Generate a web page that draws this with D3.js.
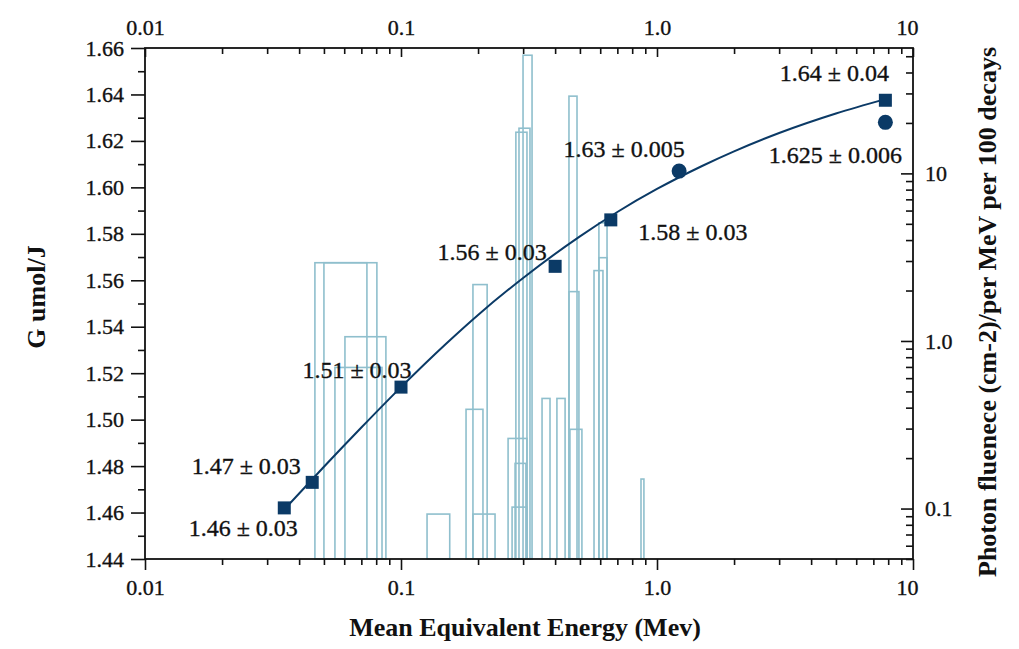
<!DOCTYPE html>
<html>
<head>
<meta charset="utf-8">
<script src="https://cdn.jsdelivr.net/npm/d3@7"></script>
<style>
  html, body { margin: 0; padding: 0; background: #ffffff; }
  svg { display: block; }
  text { font-family: "Liberation Serif", "DejaVu Serif", serif; fill: #111; }
  .reg { stroke: #111; stroke-width: 0.35px; }
</style>
</head>
<body>
<svg id="chart" width="1019" height="649"></svg>
<script>
// ---------------- data ----------------
// measured G values (squares)
const squareEnergy = [0.035, 0.045, 0.1, 0.40, 0.66, 7.8];
const squareG      = [1.462, 1.473, 1.514, 1.566, 1.586, 1.6375];
const squareLabels = ["1.46 ± 0.03", "1.47 ± 0.03", "1.51 ± 0.03", "1.56 ± 0.03", "1.58 ± 0.03", "1.64 ± 0.04"];
// reference G values (circles)
const circleEnergy = [1.22, 7.8];
const circleG      = [1.607, 1.628];
const circleLabels = ["1.63 ± 0.005", "1.625 ± 0.006"];
// fitted curve
const fitEnergy = [0.035, 0.05, 0.07, 0.1, 0.15, 0.2, 0.3, 0.5, 0.7, 1.0, 1.5, 2, 3, 5, 7.8];
const fitG      = [1.4613, 1.4797, 1.4966, 1.5140, 1.5327, 1.5451, 1.5610, 1.5789, 1.5894, 1.5993, 1.6092, 1.6155, 1.6234, 1.6318, 1.6380];
// photon fluence spectrum (outlined bins)
const binLow  = [0.0461, 0.0500, 0.0604, 0.0552, 0.1264, 0.191, 0.1795, 0.191, 0.2997, 0.281, 0.289, 0.262, 0.279, 0.2716, 0.3556, 0.4065, 0.453, 0.453, 0.457, 0.5675, 0.593, 0.593, 0.866];
const binHigh = [0.0736, 0.0805, 0.0873, 0.0843, 0.155, 0.217, 0.209, 0.233, 0.325, 0.3105, 0.319, 0.3105, 0.3076, 0.3105, 0.382, 0.4375, 0.487, 0.4955, 0.509, 0.615, 0.638, 0.638, 0.889];
const binFluence = [2.93, 2.93, 1.06, 0.695, 0.0927, 2.17, 0.391, 0.0927, 50.7, 17.6, 18.6, 0.262, 0.186, 0.102, 0.454, 0.454, 28.9, 1.97, 0.297, 2.63, 5.07, 3.14, 0.150];
// axis ticks
const xTickValues = [0.01, 0.1, 1, 10];
const xTickLabels = ["0.01", "0.1", "1.0", "10"];
const yTickValues = [1.44, 1.46, 1.48, 1.50, 1.52, 1.54, 1.56, 1.58, 1.60, 1.62, 1.64, 1.66];
const y2TickValues = [0.1, 1, 10];
const y2TickLabels = ["0.1", "1.0", "10"];

// ---------------- layout ----------------
const L = 145, R = 913, T = 48, B = 559;
const lineColor = "#0b3a66";
const barColor = "#8fbfcd";

const svg = d3.select("#chart");
const x = d3.scaleLog().domain([0.01, 10]).range([L, R]);
const y = d3.scaleLinear().domain([1.44, 1.66]).range([B, T]);
const y2 = d3.scaleLog().domain([0.05, 56]).range([B, T]);

// minor tick helpers
function logMinors(lo, hi) {
  const out = [];
  for (let e = Math.floor(Math.log10(lo)) ; e <= Math.ceil(Math.log10(hi)); e++) {
    for (let m = 2; m <= 9; m++) {
      const v = m * Math.pow(10, e);
      if (v >= lo * 0.9999 && v <= hi * 1.0001) out.push(v);
    }
  }
  return out;
}
const xMinor = logMinors(0.01, 10);
const y2Minor = logMinors(0.05, 56);
const yMinor = d3.range(1.45, 1.66, 0.02);

// ---------------- histogram ----------------
const bins = binLow.map((lo, i) => ({lo, hi: binHigh[i], v: binFluence[i]}));
svg.append("g").selectAll("rect").data(bins).join("rect")
  .attr("x", d => x(d.lo))
  .attr("y", d => y2(d.v))
  .attr("width", d => x(d.hi) - x(d.lo))
  .attr("height", d => B - y2(d.v))
  .attr("fill", "none")
  .attr("stroke", barColor)
  .attr("stroke-width", 1.6);

// ---------------- axes ----------------
function styleAxis(g) {
  g.attr("font-family", null);
  g.select(".domain").remove();
  g.selectAll("line").attr("stroke", "#111").attr("stroke-width", 1.6);
  g.selectAll("text").attr("class", "reg").style("font-family", "'Liberation Serif', serif").style("font-size", "22px").attr("fill", "#111");
}
// frame
svg.append("rect").attr("x", L).attr("y", T).attr("width", R - L).attr("height", B - T)
  .attr("fill", "none").attr("stroke", "#111").attr("stroke-width", 1.8);

// bottom
const gb = svg.append("g").attr("transform", `translate(0,${B})`)
  .call(d3.axisBottom(x).tickValues(xTickValues).tickSize(11).tickPadding(9).tickFormat((d, i) => xTickLabels[i]))
  .call(styleAxis);
gb.selectAll("text").filter(d => d === 10).attr("dx", -6);
svg.append("g").attr("transform", `translate(0,${B})`)
  .call(d3.axisBottom(x).tickValues(xMinor).tickSize(6).tickFormat(""))
  .call(styleAxis);
// top (ticks inward)
const gt = svg.append("g").attr("transform", `translate(0,${T})`)
  .call(d3.axisTop(x).tickValues(xTickValues).tickSize(-9).tickPadding(13).tickFormat((d, i) => xTickLabels[i]))
  .call(styleAxis);
gt.selectAll("text").filter(d => d === 10).attr("dx", -6);
svg.append("g").attr("transform", `translate(0,${T})`)
  .call(d3.axisTop(x).tickValues(xMinor).tickSize(-6).tickFormat(""))
  .call(styleAxis);
// left
svg.append("g").attr("transform", `translate(${L},0)`)
  .call(d3.axisLeft(y).tickValues(yTickValues).tickSize(14).tickPadding(7).tickFormat(d3.format(".2f")))
  .call(styleAxis);
svg.append("g").attr("transform", `translate(${L},0)`)
  .call(d3.axisLeft(y).tickValues(yMinor).tickSize(7).tickFormat(""))
  .call(styleAxis);
// right (ticks inward)
svg.append("g").attr("transform", `translate(${R},0)`)
  .call(d3.axisRight(y2).tickValues(y2TickValues).tickSize(-12).tickPadding(12).tickFormat((d, i) => y2TickLabels[i]))
  .call(styleAxis);
svg.append("g").attr("transform", `translate(${R},0)`)
  .call(d3.axisRight(y2).tickValues(y2Minor).tickSize(-7).tickFormat(""))
  .call(styleAxis);

// ---------------- fit line ----------------
const fitPts = fitEnergy.map((e, i) => [e, fitG[i]]);
svg.append("path").datum(fitPts)
  .attr("fill", "none").attr("stroke", lineColor).attr("stroke-width", 2)
  .attr("d", d3.line().x(d => x(d[0])).y(d => y(d[1])).curve(d3.curveMonotoneX));

// ---------------- markers ----------------
const sq = 13;
const squares = squareEnergy.map((e, i) => ({e, g: squareG[i], label: squareLabels[i]}));
svg.append("g").selectAll("rect").data(squares).join("rect")
  .attr("x", d => x(d.e) - sq / 2).attr("y", d => y(d.g) - sq / 2)
  .attr("width", sq).attr("height", sq).attr("fill", lineColor);
const circles = circleEnergy.map((e, i) => ({e, g: circleG[i], label: circleLabels[i]}));
svg.append("g").selectAll("circle").data(circles).join("circle")
  .attr("cx", d => x(d.e)).attr("cy", d => y(d.g)).attr("r", 7.5).attr("fill", lineColor);

// ---------------- annotations ----------------
const squareOffsets = [[-41, 28], [-66, -8], [-44, -9], [-63, -6], [82, 20], [-51, -19]];
const circleOffsets = [[-55, -14], [-50, 41]];
const ann = svg.append("g").style("font-size", "24px").attr("text-anchor", "middle");
squares.forEach((d, i) => {
  ann.append("text").attr("class", "reg").attr("x", x(d.e) + squareOffsets[i][0]).attr("y", y(d.g) + squareOffsets[i][1]).text(d.label);
});
circles.forEach((d, i) => {
  ann.append("text").attr("class", "reg").attr("x", x(d.e) + circleOffsets[i][0]).attr("y", y(d.g) + circleOffsets[i][1]).text(d.label);
});

// ---------------- axis titles ----------------
svg.append("text").attr("x", 525).attr("y", 636).attr("text-anchor", "middle")
  .style("font-size", "26px").style("font-weight", "bold").text("Mean Equivalent Energy (Mev)");
svg.append("text").attr("transform", `translate(45,297) rotate(-90)`).attr("text-anchor", "middle")
  .style("font-size", "26px").style("font-weight", "bold").text("G umol/J");
svg.append("text").attr("transform", `translate(996,312) rotate(-90)`).attr("text-anchor", "middle")
  .style("font-size", "26px").style("font-weight", "bold").text("Photon fluenece (cm-2)/per MeV per 100 decays");
</script>
</body>
</html>
